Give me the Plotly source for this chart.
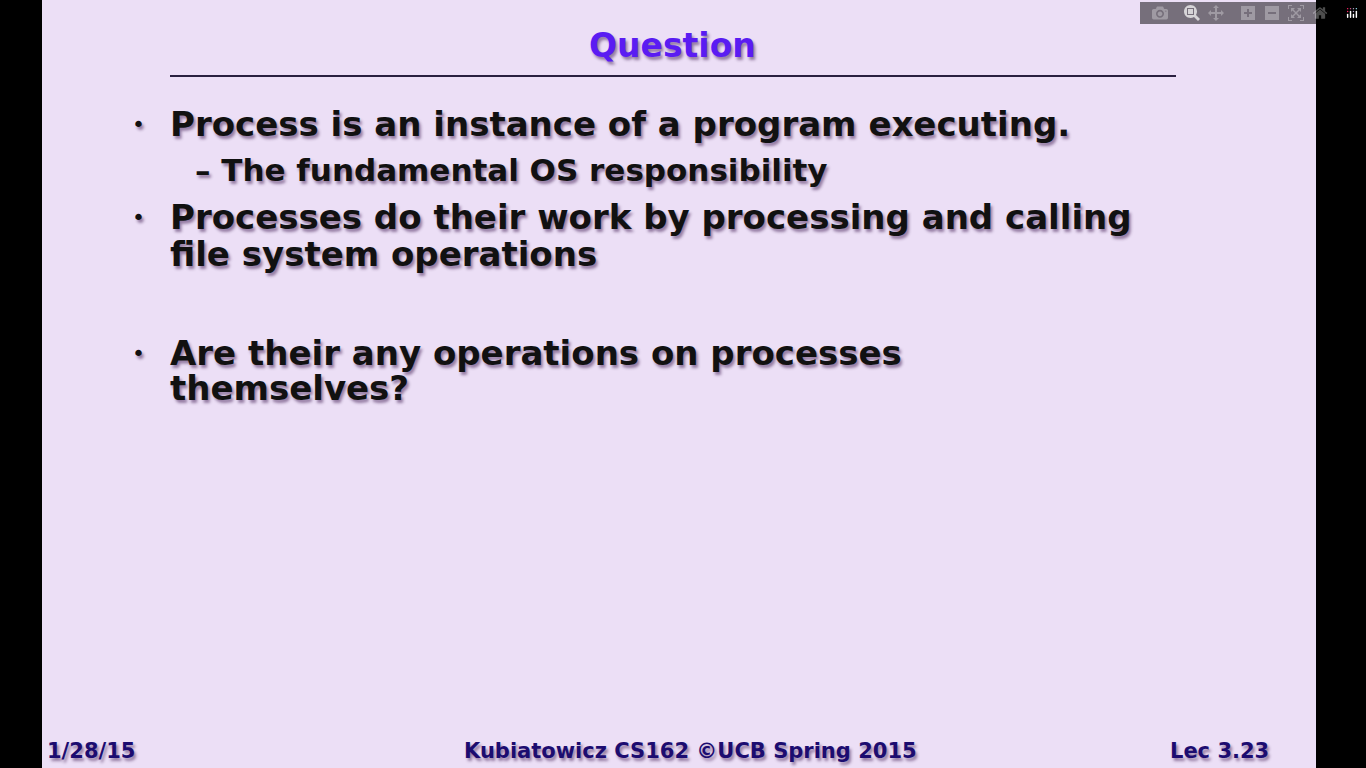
import plotly.graph_objects as go

title = "Question"
bullet_lines = [
    "Process is an instance of a program executing.",
    "Processes do their work by processing and calling",
    "file system operations",
    "Are their any operations on processes",
    "themselves?",
]
bullet_y = [124, 217, 254, 353, 388]
bullet_marks_y = [124, 217, 353]
sub_lines = ["– The fundamental OS responsibility"]
sub_y = [170]
footer_left = "1/28/15"
footer_mid = "Kubiatowicz CS162 ©UCB Spring 2015"
footer_right = "Lec 3.23"

FONT = "DejaVu Sans"
SHADOW = "2px 3px 3px rgba(40,0,60,0.45)"

fig = go.Figure()
fig.add_shape(type="rect", x0=42, x1=1316, y0=0, y1=768,
              fillcolor="#ecdff6", line_width=0, layer="below")
fig.add_shape(type="line", x0=170, x1=1176, y0=76, y1=76,
              line=dict(color="#2a2040", width=2))

fig.add_annotation(x=672, y=45, text=f"<b>{title}</b>", showarrow=False,
                   font=dict(family=FONT, size=33, color="#5a1cf2", shadow=SHADOW))

for y in bullet_marks_y:
    fig.add_annotation(x=138, y=y, text="•", showarrow=False,
                       font=dict(family=FONT, size=22, color="#111", shadow=SHADOW))
for line, y in zip(bullet_lines, bullet_y):
    fig.add_annotation(x=168, y=y, text=f"<b>{line}</b>", showarrow=False, xanchor="left",
                       font=dict(family=FONT, size=34, color="#111", shadow=SHADOW))
for line, y in zip(sub_lines, sub_y):
    fig.add_annotation(x=193, y=y, text=f"<b>{line}</b>", showarrow=False, xanchor="left",
                       font=dict(family=FONT, size=31, color="#111", shadow=SHADOW))

foot = dict(family=FONT, size=21, color="#1c0c70", shadow=SHADOW)
fig.add_annotation(x=45, y=751, text=f"<b>{footer_left}</b>", showarrow=False,
                   xanchor="left", font=foot)
fig.add_annotation(x=690, y=751, text=f"<b>{footer_mid}</b>", showarrow=False, font=foot)
fig.add_annotation(x=1271, y=751, text=f"<b>{footer_right}</b>", showarrow=False,
                   xanchor="right", font=foot)

fig.update_xaxes(range=[0, 1366], visible=False)
fig.update_yaxes(range=[768, 0], visible=False)
fig.update_layout(width=1366, height=768, margin=dict(l=0, r=0, t=0, b=0),
                  paper_bgcolor="black", plot_bgcolor="black", showlegend=False)

fig.write_html("out.html")

# drop the browser's default body margin so the slide sits at 0,0
with open("out.html", encoding="utf-8") as f:
    html = f.read()
html = html.replace("<body>", '<body style="margin:0;background:black">', 1)
with open("out.html", "w", encoding="utf-8") as f:
    f.write(html)
